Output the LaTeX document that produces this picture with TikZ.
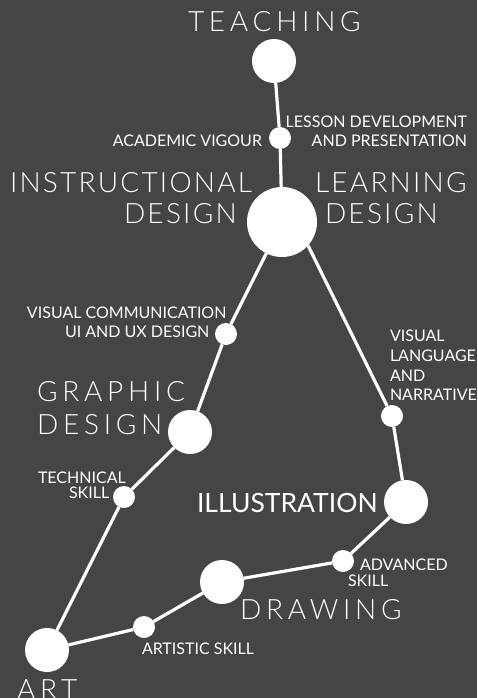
\documentclass[tikz,border=0pt]{standalone}
\usepackage{fontspec}
\setmainfont{Lato}
\newfontfamily\titlefont[LetterSpace=17]{Lato Light}
\newfontfamily\narrowtitle[LetterSpace=8]{Lato Light}
\definecolor{bg}{RGB}{69,69,72}
\begin{document}
\begin{tikzpicture}[x=1pt,y=-1pt,
  every node/.style={inner sep=0pt,outer sep=0pt,text=white},
  big/.style={circle,fill=white,minimum size=70pt},
  mid/.style={circle,fill=white,minimum size=44pt},
  dot/.style={circle,fill=white,minimum size=22pt},
  link/.style={draw=white,line width=3.2pt},
  title/.style={anchor=base west,font=\titlefont\fontsize{28}{30}\selectfont},
  ntitle/.style={anchor=base west,font=\narrowtitle\fontsize{28}{30}\selectfont},
  small/.style={anchor=base west,font=\fontsize{16}{18}\selectfont}]
\fill[bg] (0,0) rectangle (477,698);
\useasboundingbox (0,0) rectangle (477,698);
% circles
\node[mid] (teach) at (274,61) {};
\node[dot] (acad) at (280,138) {};
\node[big] (core) at (282,222) {};
\node[dot] (vc) at (226,334) {};
\node[mid] (gd) at (190,432) {};
\node[dot] (tech) at (124,497) {};
\node[mid] (art) at (47,650) {};
\node[dot] (artis) at (144,627) {};
\node[mid] (draw) at (222,582) {};
\node[dot] (adv) at (343,561) {};
\node[mid] (ill) at (406,502) {};
\node[dot] (vl) at (392,416) {};
% links
\draw[link] (teach) -- (acad) -- (core);
\draw[link] (core) -- (vc) -- (gd) -- (tech) -- (art) -- (artis) -- (draw) -- (adv) -- (ill) -- (vl) -- (core.-42);
% titles
\node[title] (tTeach) at (188,32) {TEACHING};
\node[ntitle] (tInstr) at (10,192) {INSTRUCTIONAL};
\node[ntitle] (tDes1) at (124,223) {DESIGN};
\node[ntitle] (tLearn) at (315,192) {LEARNING};
\node[ntitle] (tDes2) at (325,223) {DESIGN};
\node[title] (tGraph) at (37,401) {GRAPHIC};
\node[title] (tDes3) at (37,434) {DESIGN};
\node[anchor=base west,font=\fontsize{26.5}{30}\selectfont] (tIll) at (197,512) {ILLUSTRATION};
\node[title] (tDraw) at (240,619) {DRAWING};
\node[title] (tArt) at (17,699) {ART};
% small labels
\node[small,anchor=base east] (lAcad) at (262,146.7) {ACADEMIC VIGOUR};
\node[small,anchor=base east] (lLes1) at (467,127.7) {LESSON DEVELOPMENT};
\node[small,anchor=base east] (lLes2) at (467,146.7) {AND PRESENTATION};
\node[small] (lVc1) at (27,318.3) {VISUAL COMMUNICATION};
\node[small] (lVc2) at (65,337.3) {UI AND UX DESIGN};
\node[small] (lTech1) at (38,483.3) {TECHNICAL};
\node[small] (lTech2) at (69,498.3) {SKILL};
\node[small] (lVl1) at (390,341.7) {VISUAL};
\node[small] (lVl2) at (390,361.7) {LANGUAGE};
\node[small] (lVl3) at (390,381) {AND};
\node[small] (lVl4) at (390,400) {NARRATIVE};
\node[small] (lAdv1) at (360,570.7) {ADVANCED};
\node[small] (lAdv2) at (348,586.7) {SKILL};
\node[small] (lArtis) at (142,654) {ARTISTIC SKILL};
\end{tikzpicture}
\end{document}
